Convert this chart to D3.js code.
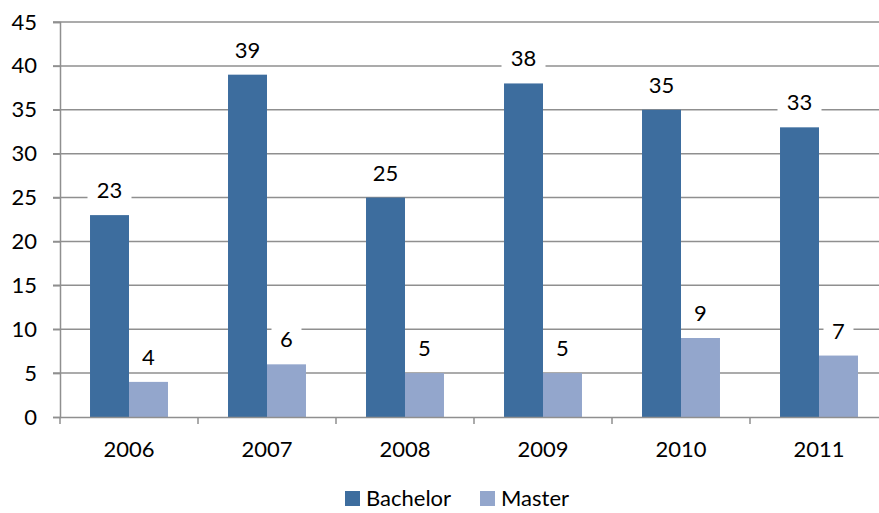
<!DOCTYPE html>
<html>
<head>
<meta charset="utf-8">
<script src="https://cdn.jsdelivr.net/npm/d3@7"></script>
<style>
  body { margin: 0; background: #fff; }
  svg { display: block; font-family: Lato, "Open Sans", sans-serif; }
</style>
</head>
<body>
<svg id="chart" width="879" height="513"></svg>
<script>
const years = ["2006", "2007", "2008", "2009", "2010", "2011"];
const bachelor = [23, 39, 25, 38, 35, 33];
const master = [4, 6, 5, 5, 9, 7];
const seriesNames = ["Bachelor", "Master"];
const colors = ["#3d6d9e", "#93a6cc"];
const yTicks = [0, 5, 10, 15, 20, 25, 30, 35, 40, 45];

const svg = d3.select("#chart");
const width = 879;
const fs = 22;

// plot runs slightly past the right edge, like the source image
const x = d3.scaleBand().domain(years).range([60, 888]).paddingInner(0).paddingOuter(0);
const y = d3.scaleLinear().domain([0, 45]).range([417, 22]);
const inner = d3.scaleBand().domain(seriesNames).range([0, x.bandwidth()]).paddingInner(0).paddingOuter(0.77);

// gridlines
svg.append("g").selectAll("line")
  .data(yTicks.filter(d => d > 0))
  .enter().append("line")
  .attr("x1", 53).attr("x2", width)
  .attr("y1", d => y(d)).attr("y2", d => y(d))
  .attr("stroke", "#8f8f8f").attr("stroke-width", 1.5);

// y axis
const yAxis = svg.append("g")
  .attr("transform", "translate(60,0)")
  .call(d3.axisLeft(y).tickValues(yTicks).tickSize(7).tickPadding(6));
yAxis.select(".domain").attr("stroke", "#8f8f8f").attr("stroke-width", 1.5);
yAxis.selectAll(".tick line").attr("stroke", "#8f8f8f").attr("stroke-width", 1.5);
yAxis.selectAll("text").attr("font-size", fs).attr("font-family", "Lato, sans-serif").attr("fill", "#000").attr("dx", -10);

// bars
const data = years.map((yr, i) => ({ year: yr, values: [bachelor[i], master[i]] }));
const groups = svg.append("g").selectAll("g")
  .data(data)
  .enter().append("g")
  .attr("transform", d => "translate(" + x(d.year) + ",0)");

groups.selectAll("rect")
  .data(d => d.values.map((v, j) => ({ name: seriesNames[j], value: v, j: j })))
  .enter().append("rect")
  .attr("x", d => inner(d.name))
  .attr("width", inner.bandwidth())
  .attr("y", d => y(d.value))
  .attr("height", d => y(0) - y(d.value))
  .attr("fill", d => colors[d.j]);

// value labels with white boxes
const labels = groups.selectAll("g.lbl")
  .data(d => d.values.map((v, j) => ({ name: seriesNames[j], value: v })))
  .enter().append("g")
  .attr("class", "lbl")
  .attr("transform", d => "translate(" + (inner(d.name) + inner.bandwidth() / 2) + "," + (y(d.value) - 17) + ")");

labels.append("rect")
  .attr("x", d => String(d.value).length > 1 ? -22 : -15)
  .attr("width", d => String(d.value).length > 1 ? 44 : 30)
  .attr("y", -23).attr("height", 30)
  .attr("fill", "#fff");

labels.append("text")
  .attr("text-anchor", "middle")
  .attr("font-size", fs)
  .attr("fill", "#000")
  .text(d => d.value);

// x axis
const xAxis = svg.append("g")
  .attr("transform", "translate(0,417)")
  .call(d3.axisBottom(x).tickSize(0).tickPadding(24));
xAxis.select(".domain").attr("stroke", "#8f8f8f").attr("stroke-width", 1.5);
xAxis.selectAll("text").attr("font-size", fs).attr("font-family", "Lato, sans-serif").attr("fill", "#000");

svg.append("g").selectAll("line")
  .data(years)
  .enter().append("line")
  .attr("x1", d => x(d)).attr("x2", d => x(d))
  .attr("y1", 417).attr("y2", 424)
  .attr("stroke", "#8f8f8f").attr("stroke-width", 1.5);

// legend
const legendX = [345, 480];
const legend = svg.append("g").selectAll("g")
  .data(seriesNames)
  .enter().append("g")
  .attr("transform", (d, i) => "translate(" + legendX[i] + ",491)");
legend.append("rect").attr("width", 15).attr("height", 15).attr("fill", (d, i) => colors[i]);
legend.append("text").attr("x", 21).attr("y", 15).attr("font-size", fs).text(d => d);
</script>
</body>
</html>
